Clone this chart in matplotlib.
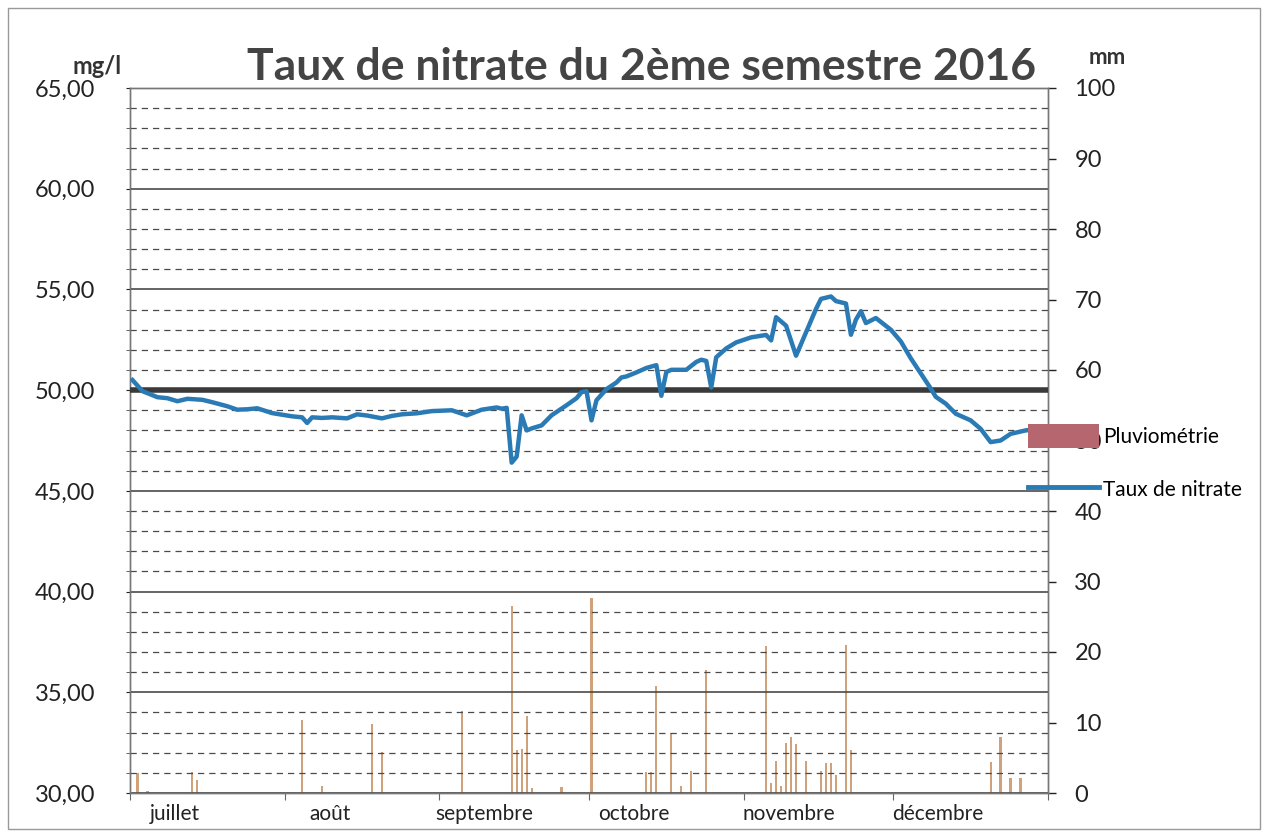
import pandas as pd
import matplotlib
matplotlib.use("Agg")
import matplotlib.pyplot as plt
from matplotlib.patches import Patch, Rectangle
from matplotlib.lines import Line2D

# Taux de nitrate (mg/l)
nitrate_dates = [
    "2016-07-01", "2016-07-03", "2016-07-06", "2016-07-08", "2016-07-10", "2016-07-12",
    "2016-07-15", "2016-07-17", "2016-07-20", "2016-07-22", "2016-07-24", "2016-07-26",
    "2016-07-29", "2016-08-02", "2016-08-04", "2016-08-05", "2016-08-06", "2016-08-08",
    "2016-08-10", "2016-08-13", "2016-08-15", "2016-08-17", "2016-08-20", "2016-08-22",
    "2016-08-24", "2016-08-27", "2016-08-30", "2016-09-03", "2016-09-06", "2016-09-09",
    "2016-09-12", "2016-09-13", "2016-09-14", "2016-09-15", "2016-09-16", "2016-09-17",
    "2016-09-18", "2016-09-19", "2016-09-21", "2016-09-23", "2016-09-26", "2016-09-28",
    "2016-09-29", "2016-09-30", "2016-10-01", "2016-10-02", "2016-10-04", "2016-10-06",
    "2016-10-07", "2016-10-08", "2016-10-10", "2016-10-12", "2016-10-14", "2016-10-15",
    "2016-10-16", "2016-10-17", "2016-10-20", "2016-10-22", "2016-10-23", "2016-10-24",
    "2016-10-25", "2016-10-26", "2016-10-28", "2016-10-30", "2016-11-02", "2016-11-04",
    "2016-11-05", "2016-11-06", "2016-11-07", "2016-11-09", "2016-11-11", "2016-11-13",
    "2016-11-15", "2016-11-16", "2016-11-18", "2016-11-19", "2016-11-21", "2016-11-22",
    "2016-11-23", "2016-11-24", "2016-11-25", "2016-11-27", "2016-11-30", "2016-12-02",
    "2016-12-04", "2016-12-06", "2016-12-08", "2016-12-09", "2016-12-11", "2016-12-13",
    "2016-12-16", "2016-12-18", "2016-12-20", "2016-12-22", "2016-12-24", "2016-12-27",
    "2016-12-30", "2016-12-31",
]
nitrate = [
    50.5, 49.95, 49.65, 49.6, 49.45, 49.57,
    49.52, 49.4, 49.2, 49.03, 49.05, 49.1,
    48.86, 48.7, 48.65, 48.37, 48.65, 48.62,
    48.65, 48.6, 48.8, 48.74, 48.6, 48.72,
    48.8, 48.85, 48.96, 49.0, 48.75, 49.03,
    49.14, 49.08, 49.12, 46.4, 46.7, 48.75,
    48.0, 48.1, 48.25, 48.75, 49.25, 49.6,
    49.9, 49.95, 48.5, 49.5, 50.05, 50.38,
    50.63, 50.68, 50.88, 51.1, 51.24, 49.72,
    50.9, 51.01, 51.01, 51.4, 51.51, 51.45,
    50.13, 51.63, 52.07, 52.37, 52.62, 52.7,
    52.74, 52.47, 53.62, 53.2, 51.71, 52.87,
    54.03, 54.53, 54.65, 54.42, 54.3, 52.75,
    53.5, 53.92, 53.33, 53.58, 53.0, 52.42,
    51.58, 50.83, 50.08, 49.67, 49.33, 48.83,
    48.5, 48.08, 47.42, 47.5, 47.83, 48.0,
    48.08, 47.92,
]

# Pluviométrie (mm)
rain_dates = [
    "2016-07-02", "2016-07-04", "2016-07-13", "2016-07-14", "2016-08-04", "2016-08-08",
    "2016-08-18", "2016-08-20", "2016-09-05", "2016-09-15", "2016-09-16", "2016-09-17",
    "2016-09-18", "2016-09-19", "2016-09-25", "2016-10-01", "2016-10-12", "2016-10-13",
    "2016-10-14", "2016-10-17", "2016-10-19", "2016-10-21", "2016-10-24", "2016-11-05",
    "2016-11-06", "2016-11-07", "2016-11-08", "2016-11-09", "2016-11-10", "2016-11-11",
    "2016-11-13", "2016-11-16", "2016-11-17", "2016-11-18", "2016-11-19", "2016-11-21",
    "2016-11-22", "2016-12-20", "2016-12-22", "2016-12-24", "2016-12-26",
]
rain = [
    2.8, 0.3, 3.0, 1.8, 10.4, 1.0,
    9.8, 5.8, 11.6, 26.5, 6.1, 6.2,
    10.9, 0.7, 0.8, 27.6, 3.0, 3.0,
    15.2, 8.5, 1.0, 3.1, 17.5, 20.9,
    1.4, 4.5, 1.0, 7.1, 8.0, 6.9,
    4.5, 3.1, 4.3, 4.3, 2.6, 21.0,
    6.1, 4.4, 7.9, 2.1, 2.1,
]

reference_level = 50
month_starts = ["2016-07-01", "2016-08-01", "2016-09-01", "2016-10-01",
                "2016-11-01", "2016-12-01", "2017-01-01"]
month_labels = ["juillet", "août", "septembre", "octobre", "novembre", "décembre"]
left_ticks = [30, 35, 40, 45, 50, 55, 60, 65]
left_labels = ["30,00", "35,00", "40,00", "45,00", "50,00", "55,00", "60,00", "65,00"]
right_ticks = [0, 10, 20, 30, 40, 50, 60, 70, 80, 90, 100]

plt.rcParams["font.family"] = ["Lato", "DejaVu Sans"]
blue = "#2a7bb5"
bar_col = "#cfa27c"
grid_col = "#4a4a4a"

half_day = pd.Timedelta(hours=12)
x_nit = pd.to_datetime(nitrate_dates) + half_day
x_rain = pd.to_datetime(rain_dates) + half_day
months = pd.to_datetime(month_starts)

fig = plt.figure(figsize=(12.68, 8.32), dpi=100)
ax = fig.add_axes([130 / 1268, 1 - 793 / 832, 918 / 1268, 705 / 832])
ax2 = ax.twinx()
ax.set_zorder(ax2.get_zorder() + 1)
ax.patch.set_visible(False)

# rain bars on the right axis
ax2.bar(x_rain, rain, width=0.45, color=bar_col, linewidth=0)
ax2.set_ylim(0, 100)
ax2.set_yticks(right_ticks)
ax2.tick_params(axis="y", direction="out", length=6, pad=13, labelsize=17,
                colors="#222222", width=1)

# nitrate line + reference
ax.axhline(reference_level, color="#3a3a3a", lw=4, zorder=3)
ax.plot(x_nit, nitrate, color=blue, lw=3.2, solid_joinstyle="round", zorder=4)
ax.set_ylim(30, 65)
ax.set_yticks(left_ticks)
ax.set_yticklabels(left_labels)
ax.set_yticks(range(30, 66), minor=True)
ax.yaxis.grid(True, which="major", color=grid_col, lw=1.2, ls="-")
ax.yaxis.grid(True, which="minor", color=grid_col, lw=0.9, ls=(0, (5, 4)))
ax.tick_params(axis="y", which="major", length=3, pad=22, labelsize=17, colors="#222222")
ax.tick_params(axis="y", which="minor", length=3, color=grid_col)

ax.set_xlim(months[0], months[-1])
ax.set_xticks(months)
ax.set_xticklabels([])
ax.set_xticks(months[:-1] + pd.Timedelta(days=9), minor=True)
ax.set_xticklabels(month_labels, minor=True)
ax.tick_params(axis="x", which="major", direction="out", length=5, color="#666666")
ax.tick_params(axis="x", which="minor", length=0, pad=8, labelsize=15, colors="#222222")

for a in (ax, ax2):
    for s in a.spines.values():
        s.set_color("#777777")
        s.set_linewidth(1)

fig.text(642 / 1268, 1 - 80 / 832, "Taux de nitrate du 2ème semestre 2016", ha="center",
         va="baseline", fontsize=32, fontweight="bold", color="#444444")
fig.text(97 / 1268, 1 - 66 / 832, "mg/l", ha="center", va="center", fontsize=17,
         fontweight="bold", color="#333333")
fig.text(1107 / 1268, 1 - 58 / 832, "mm", ha="center", va="center", fontsize=16,
         fontweight="bold", color="#333333")

handles = [Patch(facecolor="#b5666f", edgecolor="none"),
           Line2D([], [], color=blue, lw=3.5)]
fig.legend(handles, ["Pluviométrie", "Taux de nitrate"], loc="upper left",
           bbox_to_anchor=(1028 / 1268, 1 - 424 / 832), frameon=False, fontsize=15,
           handlelength=3.4, handleheight=1.4, handletextpad=0.2, labelspacing=1.4,
           borderpad=0, borderaxespad=0)

# chart border
fig.add_artist(Rectangle((8 / 1268, 3 / 832), 1252 / 1268, 821 / 832,
                         transform=fig.transFigure, fill=False, edgecolor="#999999", lw=1))

fig.savefig("out.png", dpi=100)
